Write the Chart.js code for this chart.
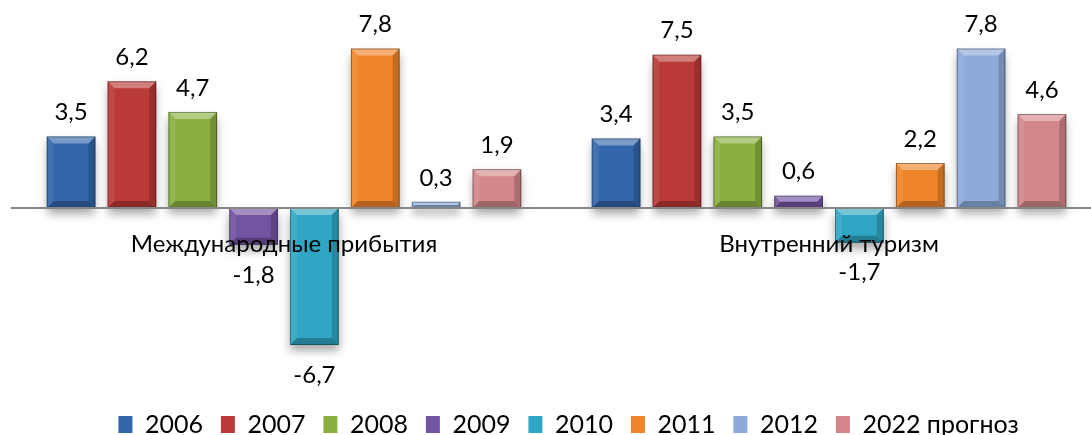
<!DOCTYPE html>
<html>
<head>
<meta charset="utf-8">
<script src="https://cdn.jsdelivr.net/npm/chart.js@4"></script>
<style>
  html, body { margin: 0; padding: 0; background: #fff; overflow: hidden; }
  #wrap { width: 1137px; height: 435px; position: relative; }
</style>
</head>
<body>
<div id="wrap"><canvas id="canvas_chart"></canvas></div>
<script>
const categories = ['Международные прибытия', 'Внутренний туризм'];
const seriesNames = ['2006', '2007', '2008', '2009', '2010', '2011', '2012', '2022 прогноз'];
const values2006 = [3.5, 3.4];
const values2007 = [6.2, 7.5];
const values2008 = [4.7, 3.5];
const values2009 = [-1.8, 0.6];
const values2010 = [-6.7, -1.7];
const values2011 = [7.8, 2.2];
const values2012 = [0.3, 7.8];
const values2022 = [1.9, 4.6];
const seriesValues = [values2006, values2007, values2008, values2009, values2010, values2011, values2012, values2022];
const colors = ['#3366aa', '#b93a37', '#8bb040', '#7353a2', '#31a6c4', '#ef852a', '#8eaadb', '#d3878a'];

const FONT = 'Lato';

// shadow under the bars
const barShadow = {
    id: 'barShadow',
    beforeDatasetsDraw(chart) {
        const ctx = chart.ctx;
        ctx.save();
        ctx.shadowColor = 'rgba(0,0,0,0.35)';
        ctx.shadowBlur = 9;
        ctx.shadowOffsetY = 6;
    },
    afterDatasetsDraw(chart) {
        chart.ctx.restore();
    }
};

// bevel edges + value labels
const bevelLabels = {
    id: 'bevelLabels',
    afterDatasetsDraw(chart) {
        const ctx = chart.ctx;
        chart.data.datasets.forEach((ds, i) => {
            chart.getDatasetMeta(i).data.forEach((bar, j) => {
                const p = bar.getProps(['x', 'y', 'base', 'width'], true);
                const left = p.x - p.width / 2, right = p.x + p.width / 2;
                const top = Math.min(p.y, p.base), bottom = Math.max(p.y, p.base);
                const b = Math.min(7, (bottom - top) / 2, p.width / 2);
                ctx.save();
                ctx.fillStyle = 'rgba(255,255,255,0.35)';
                ctx.beginPath();
                ctx.moveTo(left, top); ctx.lineTo(right, top);
                ctx.lineTo(right - b, top + b); ctx.lineTo(left + b, top + b);
                ctx.closePath(); ctx.fill();
                ctx.fillStyle = 'rgba(255,255,255,0.08)';
                ctx.beginPath();
                ctx.moveTo(left, top); ctx.lineTo(left + b, top + b);
                ctx.lineTo(left + b, bottom - b); ctx.lineTo(left, bottom);
                ctx.closePath(); ctx.fill();
                ctx.fillStyle = 'rgba(0,0,0,0.18)';
                ctx.beginPath();
                ctx.moveTo(right, top); ctx.lineTo(right - b, top + b);
                ctx.lineTo(right - b, bottom - b); ctx.lineTo(right, bottom);
                ctx.closePath(); ctx.fill();
                ctx.fillStyle = 'rgba(0,0,0,0.25)';
                ctx.beginPath();
                ctx.moveTo(left, bottom); ctx.lineTo(right, bottom);
                ctx.lineTo(right - b, bottom - b); ctx.lineTo(left + b, bottom - b);
                ctx.closePath(); ctx.fill();
                ctx.strokeStyle = 'rgba(0,0,0,0.35)';
                ctx.lineWidth = 1;
                ctx.strokeRect(left + 0.5, top + 0.5, p.width - 1, bottom - top - 1);
                ctx.restore();

                const v = ds.data[j];
                ctx.save();
                ctx.fillStyle = '#000';
                ctx.font = '24px ' + FONT;
                ctx.textAlign = 'center';
                if (v >= 0) {
                    ctx.textBaseline = 'bottom';
                    ctx.fillText(v.toFixed(1).replace('.', ','), p.x, p.y - 12);
                } else {
                    ctx.textBaseline = 'top';
                    ctx.fillText(v.toFixed(1).replace('.', ','), p.x, p.y + 18);
                }
                ctx.restore();
            });
        });
    }
};

const ctx = document.getElementById('canvas_chart');

new Chart(ctx, {
    type: 'bar',
    data: {
        labels: categories,
        datasets: seriesNames.map((name, i) => ({
            label: name,
            data: seriesValues[i],
            backgroundColor: colors[i],
            borderWidth: 0,
            categoryPercentage: 0.893,
            barPercentage: 0.8
        }))
    },
    options: {
        responsive: true,
        maintainAspectRatio: false,
        animation: false,
        layout: {
            padding: { left: 0, right: 0, top: 24, bottom: -12 }
        },
        scales: {
            x: {
                position: { y: 0 },
                grid: { display: false, drawTicks: false },
                border: { display: true, color: '#868686', width: 2, z: 1 },
                ticks: {
                    z: 1,
                    padding: 22,
                    color: '#000',
                    font: { family: FONT, size: 24 }
                }
            },
            y: {
                min: -9.1,
                max: 9,
                grid: { display: false },
                border: { display: false },
                ticks: { display: false },
                afterFit(scale) { scale.width = 11.5; }
            },
            // empty spacer axis on the right, keeps the legend centred like the original
            yRight: {
                type: 'linear',
                position: 'right',
                grid: { display: false },
                border: { display: false },
                ticks: { display: false },
                afterFit(scale) { scale.width = 35.5; }
            }
        },
        plugins: {
            tooltip: { enabled: false },
            legend: {
                position: 'bottom',
                labels: {
                    boxWidth: 14,
                    boxHeight: 17,
                    padding: 18,
                    color: '#000',
                    font: { family: FONT, size: 25 }
                }
            }
        }
    },
    plugins: [barShadow, bevelLabels]
});
</script>
</body>
</html>
